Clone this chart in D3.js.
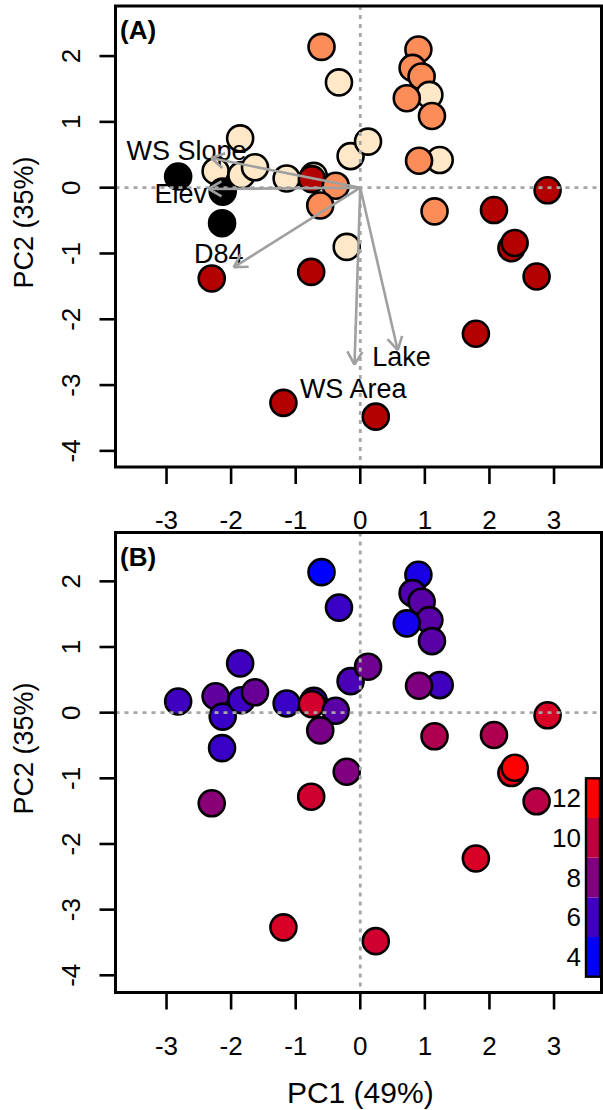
<!DOCTYPE html>
<html>
<head>
<meta charset="utf-8">
<script src="https://cdn.jsdelivr.net/npm/d3@7"></script>
<style>
  body { margin: 0; background: #fff; }
  text { font-family: "Liberation Sans", Arial, Helvetica, sans-serif; fill: #000; }
</style>
</head>
<body>
<svg id="chart" width="603" height="1110"></svg>
<script>
// PCA site scores (same sites in both panels)
const pc1 = [-2.82, -2.24, -2.13, -2.14, -1.86, -1.84, -1.63, -1.14, -0.72, -0.75,
             -0.38, -0.62, -0.15, 0.12, -0.33, -0.60, 0.90, 0.81, 0.95, 1.07,
             0.72, 1.11, 1.23, 0.91, 2.90, 1.15, 2.07, 2.34, 2.39, 2.73,
             1.79, -0.21, -0.76, -2.30, -1.19, 0.24];
const pc2 = [0.17, 0.25, -0.06, -0.54, 0.75, 0.19, 0.31, 0.14, 0.18, 0.13,
             0.03, -0.27, 0.48, 0.70, 1.60, 2.14, 2.10, 1.82, 1.69, 1.41,
             1.36, 1.09, 0.42, 0.41, -0.04, -0.36, -0.34, -0.92, -0.84, -1.35,
             -2.22, -0.90, -1.28, -1.38, -3.27, -3.48];
// panel A: group of each site (index into groupColors)
const siteGroup = [0, 1, 0, 0, 1, 1, 1, 1, 1, 3,
                   2, 2, 1, 1, 1, 2, 2, 2, 2, 1,
                   2, 2, 1, 2, 3, 2, 3, 3, 3, 3,
                   3, 1, 3, 3, 3, 3];
// panel B: value of each site shown on the colour bar
const siteValue = [6.0, 7.0, 5.8, 5.8, 6.0, 5.9, 7.3, 5.8, 6.0, 10.6,
                   6.8, 7.8, 6.3, 7.5, 5.8, 4.0, 4.8, 6.5, 6.8, 6.8,
                   4.6, 6.8, 6.0, 8.0, 10.8, 9.5, 9.5, 11.3, 12.0, 9.8,
                   10.8, 8.0, 10.5, 8.3, 10.8, 10.5];
const groupColors = ["#000000", "#FEE8C8", "#FC8D59", "#B30000"];

// variable loadings (arrows) and where their names sit
const loadingNames = ["WS Slope", "Elev", "D84", "WS Area", "Lake"];
const loadingX = [-2.31, -2.35, -1.96, -0.09, 0.58];
const loadingY = [0.45, -0.02, -1.21, -2.69, -2.47];
const labelX = [-2.69, -2.78, -2.19, -0.11, 0.64];
const labelY = [0.57, -0.09, -1.00, -3.06, -2.57];

const xTicks = [-3, -2, -1, 0, 1, 2, 3];
const yTicks = [-4, -3, -2, -1, 0, 1, 2];
const legendTicks = [4, 6, 8, 10, 12];

const svg = d3.select('#chart');

const plotLeft = 115.5, plotRight = 601.5;
const x = d3.scaleLinear().domain([-3.79, 3.735]).range([plotLeft, plotRight]);

const valueColor = d3.scaleLinear()
  .domain([4, 12])
  .range(["#0000FF", "#FF0000"])
  .interpolate(d3.interpolateRgb)
  .clamp(true);

const sites = pc1.map((d, i) => ({ x: d, y: pc2[i], group: siteGroup[i], value: siteValue[i] }));

function panel(top, bottom, yDomain, fill, tag, xTitle) {
  const y = d3.scaleLinear().domain(yDomain).range([bottom, top]);
  const g = svg.append('g');

  // points
  g.selectAll('circle')
    .data(sites)
    .enter().append('circle')
    .attr('cx', d => x(d.x))
    .attr('cy', d => y(d.y))
    .attr('r', 13)
    .attr('fill', fill)
    .attr('stroke', '#000')
    .attr('stroke-width', 2.6);

  // zero lines
  g.append('line')
    .attr('x1', plotLeft).attr('x2', plotRight)
    .attr('y1', y(0)).attr('y2', y(0))
    .attr('stroke', '#a6a6a6').attr('stroke-width', 2.8)
    .attr('stroke-dasharray', '4,5');
  g.append('line')
    .attr('x1', x(0)).attr('x2', x(0))
    .attr('y1', top).attr('y2', bottom)
    .attr('stroke', '#a6a6a6').attr('stroke-width', 2.8)
    .attr('stroke-dasharray', '4,5');

  // box
  g.append('rect')
    .attr('x', plotLeft).attr('y', top)
    .attr('width', plotRight - plotLeft).attr('height', bottom - top)
    .attr('fill', 'none').attr('stroke', '#000').attr('stroke-width', 3);

  // x axis ticks + labels
  g.selectAll('.xt')
    .data(xTicks)
    .enter().append('line')
    .attr('x1', d => x(d)).attr('x2', d => x(d))
    .attr('y1', bottom).attr('y2', bottom + 17)
    .attr('stroke', '#000').attr('stroke-width', 2.6);
  g.selectAll('.xl')
    .data(xTicks)
    .enter().append('text')
    .attr('x', d => x(d))
    .attr('y', bottom + 53)
    .attr('dy', '0.35em')
    .attr('text-anchor', 'middle')
    .style('font-size', '26px')
    .text(d => d);

  // y axis ticks + labels (rotated like R's default)
  g.selectAll('.yt')
    .data(yTicks)
    .enter().append('line')
    .attr('x1', plotLeft - 16).attr('x2', plotLeft)
    .attr('y1', d => y(d)).attr('y2', d => y(d))
    .attr('stroke', '#000').attr('stroke-width', 2.6);
  g.selectAll('.yl')
    .data(yTicks)
    .enter().append('text')
    .attr('transform', d => 'translate(71,' + y(d) + ') rotate(-90)')
    .attr('dy', '0.35em')
    .attr('text-anchor', 'middle')
    .style('font-size', '26px')
    .text(d => d);

  g.append('text')
    .attr('transform', 'translate(24,' + ((top + bottom) / 2 - 14) + ') rotate(-90)')
    .attr('dy', '0.35em')
    .attr('text-anchor', 'middle')
    .style('font-size', '27px')
    .text('PC2 (35%)');

  if (xTitle) {
    g.append('text')
      .attr('x', x(0))
      .attr('y', bottom + 100)
      .attr('dy', '0.35em')
      .attr('text-anchor', 'middle')
      .style('font-size', '30px')
      .text(xTitle);
  }

  g.append('text')
    .attr('x', 120)
    .attr('y', top + 33)
    .style('font-size', '26px')
    .style('font-weight', 'bold')
    .text(tag);

  return { g: g, y: y };
}

// ---- panel A: groups + loading arrows
const A = panel(6, 467, [-4.245, 2.761], d => groupColors[d.group], '(A)', null);

loadingNames.forEach(function(name, i) {
  A.g.append('text')
    .attr('x', x(labelX[i]))
    .attr('y', A.y(labelY[i]))
    .attr('dy', '0.35em')
    .attr('text-anchor', 'middle')
    .style('font-size', '27px')
    .text(name);
});

loadingNames.forEach(function(name, i) {
  const x0 = x(0), y0 = A.y(0);
  const x1 = x(loadingX[i]), y1 = A.y(loadingY[i]);
  const ang = Math.atan2(y1 - y0, x1 - x0);
  const head = 15, spread = Math.PI / 6;
  A.g.append('line')
    .attr('x1', x0).attr('y1', y0).attr('x2', x1).attr('y2', y1)
    .attr('stroke', '#a0a0a0').attr('stroke-width', 2.6);
  [ang + Math.PI - spread, ang + Math.PI + spread].forEach(function(a) {
    A.g.append('line')
      .attr('x1', x1).attr('y1', y1)
      .attr('x2', x1 + head * Math.cos(a)).attr('y2', y1 + head * Math.sin(a))
      .attr('stroke', '#a0a0a0').attr('stroke-width', 2.6);
  });
});

// ---- panel B: continuous colour + colour bar
const B = panel(532.5, 992.5, [-4.262, 2.744], d => valueColor(d.value), '(B)', 'PC1 (49%)');

const legendY = d3.scaleLinear().domain([3, 13]).range([976.7, 778.3]);
B.g.selectAll('.band')
  .data(legendTicks)
  .enter().append('rect')
  .attr('x', 586)
  .attr('y', d => legendY(d + 1))
  .attr('width', 14)
  .attr('height', d => legendY(d - 1) - legendY(d + 1))
  .attr('fill', d => valueColor(d));
B.g.append('rect')
  .attr('x', 586).attr('y', legendY(13))
  .attr('width', 14).attr('height', legendY(3) - legendY(13))
  .attr('fill', 'none').attr('stroke', '#000').attr('stroke-width', 2.4);
B.g.selectAll('.lt')
  .data(legendTicks)
  .enter().append('text')
  .attr('x', 581)
  .attr('y', d => legendY(d))
  .attr('dy', '0.35em')
  .attr('text-anchor', 'end')
  .style('font-size', '26px')
  .text(d => d);
</script>
</body>
</html>
